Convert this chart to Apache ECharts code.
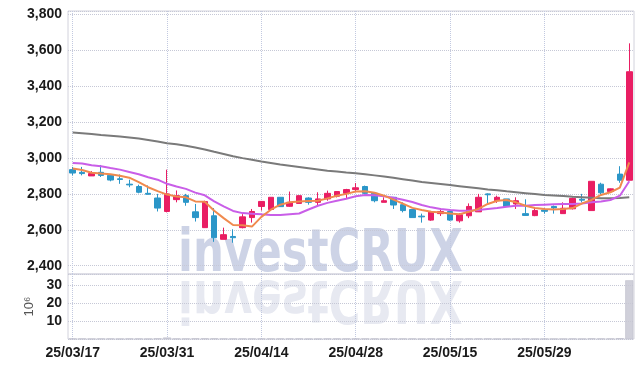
<!DOCTYPE html>
<html>
<head>
<meta charset="utf-8">
<script src="https://cdn.jsdelivr.net/npm/echarts@6/dist/echarts.min.js"></script>
<style>
html, body { margin: 0; padding: 0; background: #fff; }
#chart { width: 642px; height: 368px; }
</style>
</head>
<body>
<div id="chart"></div>
<script>
// 거래일 (YY/MM/DD)
var dates = [
    '25/03/17', '25/03/18', '25/03/19', '25/03/20', '25/03/21', '25/03/24', '25/03/25', '25/03/26', '25/03/27', '25/03/28',
    '25/03/31', '25/04/01', '25/04/02', '25/04/03', '25/04/04', '25/04/07', '25/04/08', '25/04/09', '25/04/10', '25/04/11',
    '25/04/14', '25/04/15', '25/04/16', '25/04/17', '25/04/18', '25/04/21', '25/04/22', '25/04/23', '25/04/24', '25/04/25',
    '25/04/28', '25/04/29', '25/04/30', '25/05/02', '25/05/07', '25/05/08', '25/05/09', '25/05/12', '25/05/13', '25/05/14',
    '25/05/15', '25/05/16', '25/05/19', '25/05/20', '25/05/21', '25/05/22', '25/05/23', '25/05/26', '25/05/27', '25/05/28',
    '25/05/29', '25/05/30', '25/06/02', '25/06/04', '25/06/05', '25/06/09', '25/06/10', '25/06/11', '25/06/12', '25/06/13'
];
// 시가 / 종가 / 저가 / 고가
var openV = [
    2935, 2920, 2900, 2920, 2903, 2884, 2854, 2841, 2803, 2777,
    2702, 2768, 2790, 2700, 2612, 2678, 2547, 2563, 2612, 2668,
    2730, 2713, 2781, 2731, 2747, 2777, 2753, 2772, 2787, 2803,
    2824, 2841, 2803, 2753, 2781, 2740, 2713, 2676, 2654, 2690,
    2702, 2650, 2678, 2700, 2800, 2762, 2772, 2744, 2690, 2679,
    2710, 2730, 2690, 2717, 2770, 2707, 2854, 2813, 2910, 2876
];
var closeV = [
    2916, 2913, 2913, 2903, 2877, 2880, 2850, 2809, 2798, 2721,
    2800, 2790, 2753, 2668, 2757, 2556, 2573, 2556, 2672, 2702,
    2758, 2781, 2729, 2753, 2790, 2753, 2772, 2803, 2813, 2824,
    2834, 2803, 2762, 2762, 2738, 2707, 2668, 2672, 2700, 2702,
    2654, 2684, 2730, 2781, 2795, 2781, 2730, 2762, 2680, 2707,
    2703, 2722, 2720, 2775, 2765, 2870, 2806, 2828, 2876, 3480
];
var lowV = [
    2903, 2903, 2900, 2894, 2870, 2856, 2837, 2803, 2796, 2702,
    2697, 2753, 2734, 2646, 2610, 2533, 2547, 2528, 2608, 2640,
    2707, 2713, 2729, 2728, 2747, 2740, 2734, 2762, 2780, 2775,
    2809, 2800, 2753, 2753, 2716, 2697, 2668, 2640, 2650, 2677,
    2650, 2640, 2665, 2700, 2743, 2750, 2728, 2716, 2678, 2676,
    2690, 2690, 2690, 2713, 2753, 2707, 2790, 2810, 2862, 2876
];
var highV = [
    2950, 2950, 2927, 2961, 2908, 2908, 2879, 2851, 2847, 2800,
    2935, 2819, 2800, 2744, 2762, 2721, 2612, 2603, 2687, 2716,
    2760, 2781, 2781, 2813, 2793, 2781, 2809, 2818, 2815, 2828,
    2860, 2846, 2803, 2781, 2781, 2753, 2713, 2690, 2705, 2721,
    2702, 2693, 2747, 2800, 2803, 2790, 2772, 2781, 2770, 2721,
    2721, 2735, 2753, 2780, 2800, 2870, 2862, 2830, 2954, 3638
];
// 이동평균선
var ma5 = [
    2941, 2933, 2918, 2913, 2909, 2901, 2890, 2865, 2837, 2815,
    2796, 2785, 2781, 2758, 2756, 2706, 2665, 2627, 2625, 2618,
    2672, 2712, 2740, 2753, 2758, 2761, 2762, 2775, 2790, 2800,
    2813, 2815, 2806, 2790, 2768, 2746, 2722, 2710, 2700, 2696,
    2691, 2687, 2700, 2716, 2744, 2762, 2766, 2753, 2734, 2721,
    2716, 2713, 2716, 2721, 2747, 2766, 2794, 2809, 2835, 2975
];
var ma20 = [
    2972, 2969, 2959, 2954, 2944, 2935, 2922, 2909, 2893, 2879,
    2856, 2841, 2828, 2807, 2792, 2758, 2730, 2705, 2693, 2690,
    2686, 2683, 2683, 2687, 2691, 2713, 2734, 2750, 2762, 2773,
    2787, 2794, 2792, 2787, 2778, 2767, 2755, 2738, 2725, 2716,
    2710, 2706, 2706, 2710, 2716, 2721, 2728, 2734, 2734, 2738,
    2740, 2742, 2744, 2744, 2747, 2753, 2758, 2766, 2790, 2870
];
var ma120 = [
    3141, 3137, 3133, 3128, 3124, 3119, 3114, 3108, 3100, 3091,
    3082, 3076, 3068, 3058, 3047, 3034, 3022, 3010, 2999, 2990,
    2980, 2972, 2964, 2957, 2950, 2943, 2936, 2929, 2924, 2919,
    2915, 2909, 2903, 2897, 2890, 2882, 2874, 2866, 2861, 2855,
    2849, 2843, 2837, 2831, 2825, 2820, 2814, 2809, 2804, 2799,
    2794, 2791, 2788, 2784, 2781, 2778, 2775, 2775, 2777, 2781
];
// 거래량 (단위 10^6)
var volume = [
    0.2, 0.2, 0.1, 0.2, 0.2, 0.1, 0.2, 0.2, 0.1, 0.3,
    0.8, 0.2, 0.2, 0.3, 0.3, 0.3, 0.2, 0.2, 0.2, 0.2,
    0.2, 0.2, 0.2, 0.2, 0.2, 0.1, 0.1, 0.2, 0.2, 0.2,
    0.2, 0.2, 0.2, 0.1, 0.2, 0.2, 0.2, 0.1, 0.2, 0.1,
    0.2, 0.1, 0.2, 0.2, 0.2, 0.1, 0.1, 0.1, 0.2, 0.1,
    0.1, 0.1, 0.1, 0.2, 0.1, 0.3, 0.2, 0.2, 0.4, 32.5
];

var upColor = '#e91e63';
var downColor = '#2b96c8';
var axisFont = '"Liberation Sans Narrow", "Liberation Sans", sans-serif';
var markFont = 'bold 58px "DejaVu Sans"';
var hLine = { type: 'dotted', color: '#c6c8d6', width: 1 };
var vLine = { type: 'dotted', color: '#c2c9e0', width: 1 };

var candles = [];
for (var i = 0; i < dates.length; i++) {
    candles.push([openV[i], closeV[i], lowV[i], highV[i]]);
}

var myChart = echarts.init(document.getElementById('chart'));
var option = {
    animation: false,
    grid: [
        { left: 68, right: 8, top: 11, height: 263, show: true, borderColor: '#d2d2dc', borderWidth: 1 },
        { left: 68, right: 8, top: 274, height: 65, show: true, borderColor: '#d2d2dc', borderWidth: 1 }
    ],
    xAxis: [{
        type: 'category',
        gridIndex: 0,
        data: dates,
        boundaryGap: true,
        axisLine: { show: false },
        axisTick: { show: false },
        axisLabel: { show: false },
        splitLine: { show: true, interval: 9, alignWithLabel: true, lineStyle: vLine }
    }, {
        type: 'category',
        gridIndex: 1,
        data: dates,
        boundaryGap: true,
        axisLine: { show: false },
        axisTick: { show: false },
        axisLabel: {
            interval: 9,
            margin: 7,
            fontFamily: axisFont,
            fontWeight: 'bold',
            fontSize: 14,
            color: '#1a1a1a'
        },
        splitLine: { show: true, interval: 9, alignWithLabel: true, lineStyle: vLine }
    }],
    yAxis: [{
        type: 'value',
        gridIndex: 0,
        min: 2354,
        max: 3818,
        splitNumber: 7,
        axisLine: { show: false },
        axisTick: { show: false },
        axisLabel: {
            showMinLabel: false,
            showMaxLabel: false,
            margin: 6,
            fontFamily: axisFont,
            fontWeight: 'bold',
            fontSize: 14,
            color: '#1a1a1a',
            formatter: function (v) { return v.toLocaleString('en-US'); }
        },
        splitLine: { lineStyle: hLine }
    }, {
        type: 'value',
        gridIndex: 1,
        min: 0,
        max: 36,
        interval: 10,
        name: '10\u2076',
        nameLocation: 'middle',
        nameGap: 31,
        nameRotate: 90,
        nameTextStyle: { fontFamily: axisFont, fontSize: 13, color: '#555' },
        axisLine: { show: false },
        axisTick: { show: false },
        axisLabel: {
            showMinLabel: false,
            showMaxLabel: false,
            margin: 6,
            fontFamily: axisFont,
            fontWeight: 'bold',
            fontSize: 14,
            color: '#1a1a1a'
        },
        splitLine: { lineStyle: hLine }
    }],
    // 워터마크 + 반사
    graphic: [{
        type: 'text',
        x: 178,
        y: 285,
        scaleX: 0.75,
        z: -10,
        style: { text: 'investCRUX', font: markFont, fill: '#cdd3e6', verticalAlign: 'bottom' }
    }, {
        type: 'text',
        x: 178,
        y: 267,
        scaleX: 0.75,
        scaleY: -1,
        z: -10,
        style: { text: 'investCRUX', font: markFont, fill: '#e7e9f1', verticalAlign: 'bottom' }
    }],
    series: [{
        name: '가격',
        type: 'candlestick',
        xAxisIndex: 0,
        yAxisIndex: 0,
        barWidth: 6,
        data: candles,
        itemStyle: {
            color: upColor,
            color0: downColor,
            borderColor: upColor,
            borderColor0: downColor,
            borderWidth: 1
        }
    }, {
        name: 'MA120',
        type: 'line',
        data: ma120,
        showSymbol: false,
        lineStyle: { width: 2, color: '#7a7a7a' },
        itemStyle: { color: '#7a7a7a' }
    }, {
        name: 'MA20',
        type: 'line',
        data: ma20,
        showSymbol: false,
        lineStyle: { width: 2, color: '#c95ee8' },
        itemStyle: { color: '#c95ee8' }
    }, {
        name: 'MA5',
        type: 'line',
        data: ma5,
        showSymbol: false,
        lineStyle: { width: 2, color: '#f08a4e' },
        itemStyle: { color: '#f08a4e' }
    }, {
        name: '거래량',
        type: 'bar',
        xAxisIndex: 1,
        yAxisIndex: 1,
        barWidth: '85%',
        data: volume,
        itemStyle: { color: 'rgba(200,200,212,0.85)', borderColor: '#b9b9c6', borderWidth: 0.5 }
    }]
};
myChart.setOption(option);
</script>
</body>
</html>
